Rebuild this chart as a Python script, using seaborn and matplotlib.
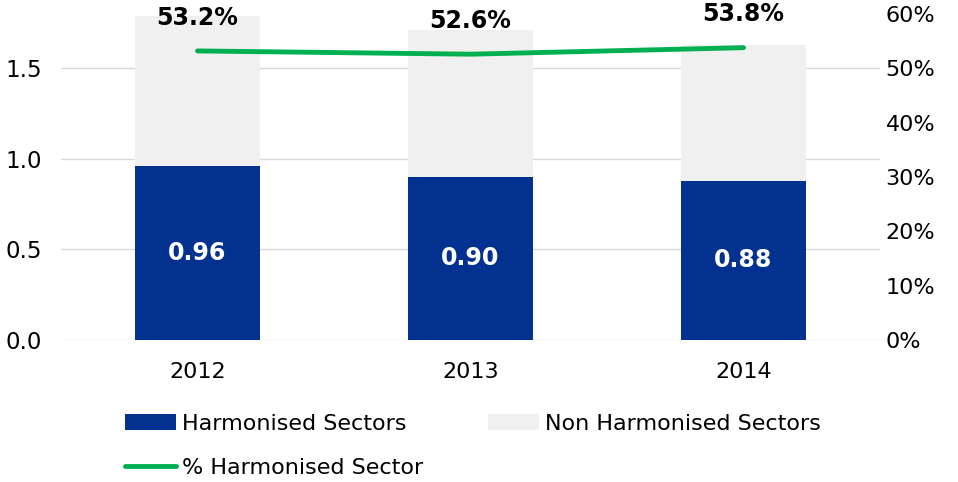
import matplotlib
matplotlib.use("Agg")
import matplotlib.pyplot as plt
import seaborn as sns
import pandas as pd
from matplotlib.patches import Patch
from matplotlib.lines import Line2D

years = ["2012", "2013", "2014"]
harmonised = [0.96, 0.90, 0.88]
non_harmonised = [0.83, 0.81, 0.75]
pct_harmonised = [0.532, 0.526, 0.538]
pct_labels = ["53.2%", "52.6%", "53.8%"]

BLUE = "#03318F"
GREY = "#F0F0F0"
GREEN = "#00B050"

sns.set_theme(style="white")
plt.rcParams['font.family'] = ['DejaVu Sans']
plt.rcParams['text.color'] = '#000000'

df = pd.DataFrame({"year": years, "harm": harmonised, "nonharm": non_harmonised,
                   "pct": pct_harmonised})
df["total"] = df["harm"] + df["nonharm"]

fig = plt.figure(figsize=(9.58, 4.82), dpi=100)
ax = fig.add_axes([0.0637, 0.2946, 0.8549, 0.6764])

sns.barplot(data=df, x="year", y="total", color=GREY, width=0.46, ax=ax,
            saturation=1, edgecolor="none", zorder=2)
sns.barplot(data=df, x="year", y="harm", color=BLUE, width=0.46, ax=ax,
            saturation=1, edgecolor="none", zorder=3)

ax.set_ylim(0, 1.8)
ax.set_xlim(-0.5, 2.5)
ax.set_yticks([0, 0.5, 1.0, 1.5])
ax.set_yticklabels(["0.0", "0.5", "1.0", "1.5"])
ax.grid(axis="y", color="#D9D9D9", linewidth=1, zorder=0)
ax.set_axisbelow(True)
ax.set_xlabel("")
ax.set_ylabel("")
for s in ax.spines.values():
    s.set_visible(False)
ax.tick_params(axis="y", length=0, pad=14, labelsize=16.5, colors="#000000")
ax.tick_params(axis="x", length=0, pad=16, labelsize=16, colors="#000000")

for i, v in enumerate(harmonised):
    ax.text(i, v / 2, f"{v:.2f}", ha="center", va="center", color="white",
            fontsize=17, fontweight="bold", zorder=5)

ax2 = ax.twinx()
sns.lineplot(x=[0, 1, 2], y=pct_harmonised, ax=ax2, color=GREEN, linewidth=3.5,
             solid_capstyle="round", zorder=6)
ax2.set_ylim(0, 0.6)
ax2.set_yticks([0, 0.1, 0.2, 0.3, 0.4, 0.5, 0.6])
ax2.set_yticklabels([f"{int(round(t*100))}%" for t in [0, 0.1, 0.2, 0.3, 0.4, 0.5, 0.6]])
ax2.tick_params(axis="y", length=0, pad=4, labelsize=16, colors="#000000")
for s in ax2.spines.values():
    s.set_visible(False)
ax2.grid(False)
ax2.set_ylabel("")

for i, (p, lab) in enumerate(zip(pct_harmonised, pct_labels)):
    ax2.annotate(lab, (i, p), xytext=(0, 24), textcoords="offset points",
                 ha="center", va="center", fontsize=17, fontweight="bold",
                 color="#000000", zorder=7)

handles = [Patch(facecolor=BLUE, edgecolor="none"),
           Line2D([0], [0], color=GREEN, linewidth=3.5, solid_capstyle="round"),
           Patch(facecolor=GREY, edgecolor="none")]
labels = ["Harmonised Sectors", "% Harmonised Sector", "Non Harmonised Sectors"]
leg = fig.legend(handles, labels, ncol=2, loc="upper left", bbox_to_anchor=(0.1305, 0.141),
                 frameon=False, fontsize=16, handlelength=2.3, handleheight=0.7,
                 handletextpad=0.27, columnspacing=2.9, labelspacing=1.08,
                 borderpad=0, borderaxespad=0)
for t in leg.get_texts():
    t.set_color("#000000")

fig.savefig("out.png", dpi=100)
